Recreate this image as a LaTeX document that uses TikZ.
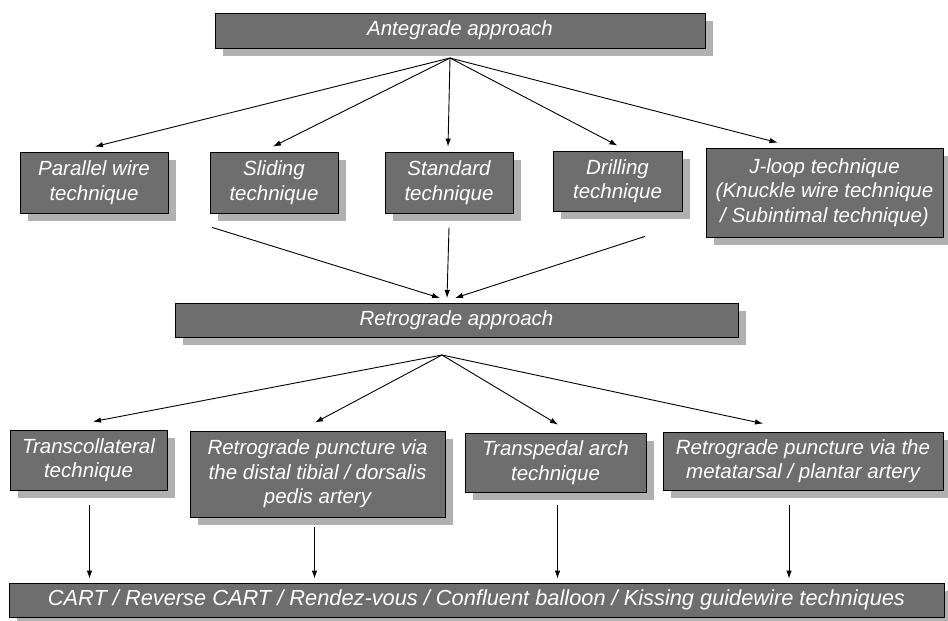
\documentclass[tikz,border=0pt]{standalone}
\usepackage{fontspec}
\setmainfont{Liberation Sans}
\usetikzlibrary{shadows,arrows.meta}
\definecolor{boxgray}{HTML}{6E6E6E}
\definecolor{shadowgray}{HTML}{B0B0B0}

\begin{document}
\begin{tikzpicture}[x=1pt,y=-1pt,
  box/.style={draw=black,line width=0.8pt,fill=boxgray,text=white,align=center,
    inner sep=0pt,font=\fontsize{20.5}{24.5}\selectfont\itshape,
    drop shadow={shadow xshift=8pt,shadow yshift=-8pt,fill=shadowgray,opacity=1}},
  arr/.style={-{Latex[length=8pt,width=5.5pt]},line width=0.9pt}]
  \useasboundingbox (0,0) rectangle (948,621);

  % Antegrade approach
  \node[box,minimum width=490pt,minimum height=35pt] (ante) at (460,30.5) {Antegrade approach};

  % Antegrade techniques
  \node[box,minimum width=148pt,minimum height=61pt] (parallel) at (94,182.5) {Parallel wire\\technique};
  \node[box,minimum width=128pt,minimum height=61pt] (sliding) at (274,182.5) {Sliding\\technique};
  \node[box,minimum width=128pt,minimum height=61pt] (standard) at (449,182.5) {Standard\\technique};
  \node[box,minimum width=129pt,minimum height=60pt] (drilling) at (617.5,181) {Drilling\\technique};
  \node[box,minimum width=237pt,minimum height=89pt] (jloop) at (824.5,192.5) {J-loop technique\\(Knuckle wire technique\\/ Subintimal technique)};

  % Retrograde approach
  \node[box,minimum width=563pt,minimum height=34pt] (retro) at (456.5,320) {Retrograde approach};

  % Retrograde techniques
  \node[box,minimum width=157pt,minimum height=60pt] (trans) at (88.5,460) {Transcollateral\\technique};
  \node[box,minimum width=255pt,minimum height=86pt] (distal) at (317.5,474) {Retrograde puncture via\\the distal tibial / dorsalis\\pedis artery};
  \node[box,minimum width=181pt,minimum height=59pt] (transp) at (555.5,462.5) {Transpedal arch\\technique};
  \node[box,minimum width=280pt,minimum height=58pt] (meta) at (803,461) {Retrograde puncture via the\\metatarsal / plantar artery};

  % Final techniques
  \node[box,minimum width=935pt,minimum height=34pt] (final) at (476.5,600) {\fontsize{21.8}{24}\selectfont CART / Reverse CART / Rendez-vous / Confluent balloon / Kissing guidewire techniques};

  % Fan out from antegrade
  \coordinate (antefan) at (450,58);
  \foreach \n/\dx in {parallel/1, sliding/-1, standard/-1, drilling/0, jloop/-47}
    \draw[arr] (antefan) -- ([xshift=\dx pt,yshift=5pt]\n.north);

  % Into retrograde
  \coordinate (retrotip) at (447,298);
  \draw[arr] ([xshift=-62pt,yshift=-14pt]sliding.south) -- ([xshift=-7pt]retrotip);
  \draw[arr] ([yshift=-14pt]standard.south) -- (retrotip);
  \draw[arr] ([xshift=27.5pt,yshift=-25pt]drilling.south) -- ([xshift=8pt]retrotip);

  % Fan out from retrograde
  \coordinate (retrofan) at (442,355);
  \foreach \n/\dx in {trans/4.5, distal/-2.5, transp/2.5, meta/-40}
    \draw[arr] (retrofan) -- ([xshift=\dx pt,yshift=8pt]\n.north);

  % Down to final box
  \foreach \n/\dx/\dy in {trans/1/15, distal/-3/10, transp/2/13, meta/-14/15}
    \draw[arr,shorten >=4pt] ([xshift=\dx pt,yshift=-\dy pt]\n.south) coordinate (vstart) -- (vstart |- final.north);
\end{tikzpicture}
\end{document}
